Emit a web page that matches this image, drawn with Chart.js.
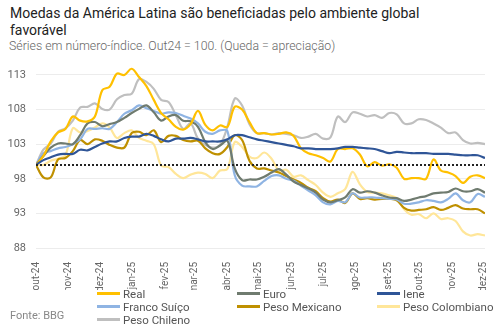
<!DOCTYPE html>
<html>
<head>
<meta charset="utf-8">
<script src="https://cdn.jsdelivr.net/npm/chart.js@4.4.1/dist/chart.umd.min.js"></script>
<style>
  body { margin: 0; background: #fff; font-family: Roboto, "Noto Sans", sans-serif; }
  #wrap { position: relative; width: 502px; height: 327px; overflow: hidden; }
  #title { position: absolute; left: 10px; top: 5px; font-size: 14px; line-height: 17px; color: #222; width: 450px; }
  #sub { position: absolute; left: 9px; top: 39px; font-size: 12.3px; color: #666; font-weight: 300; }
  #box { position: absolute; left: 0; top: 48px; width: 502px; height: 242px; }
  #legend { position: absolute; left: 0; top: 287px; width: 502px; height: 40px; font-size: 11.5px; color: #555; }
  .item { position: absolute; height: 13px; line-height: 13px; white-space: nowrap; }
  .item span.sw { display: inline-block; width: 23px; height: 3px; vertical-align: middle; margin-right: 3px; position: relative; top: -1px; }
  #fonte { position: absolute; left: 10px; top: 309px; font-size: 11px; color: #888; }
</style>
</head>
<body>
<div id="wrap">
  <div id="title">Moedas da América Latina são beneficiadas pelo ambiente global favorável</div>
  <div id="sub">Séries em número-índice. Out24 = 100. (Queda = apreciação)</div>
  <div id="box"><canvas id="chart"></canvas></div>
  <div id="legend"></div>
  <div id="fonte">Fonte: BBG</div>
</div>
<script>
// weekly observations, starting 01/10/2024 (day 0), one every 7 days
const stepDays = 7;

const monthLabels = ['out-24', 'nov-24', 'dez-24', 'jan-25', 'fev-25', 'mar-25', 'abr-25', 'mai-25',
  'jun-25', 'jul-25', 'ago-25', 'set-25', 'out-25', 'nov-25', 'dez-25'];
const monthDays = [0, 31, 61, 92, 123, 151, 182, 212, 243, 273, 304, 335, 365, 396, 426];
const yTicks = [88, 93, 98, 103, 108, 113];

const real = [100, 101.3, 103.4, 104.7, 105.2, 107.0, 106.4, 106.3, 107.0, 110.8, 111.3, 113.2, 113.0, 113.9,
  112.7, 111.4, 109.4, 107.5, 106.6, 105.5, 105.1, 105.9, 107.8, 105.8, 105.0, 105.7, 105.5, 108.4, 108.0,
  106.2, 104.6, 104.6, 104.4, 104.5, 104.7, 104.2, 102.4, 101.7, 101.4, 101.0, 100.5, 102.3, 102.3, 102.4,
  101.5, 99.8, 100.4, 99.9, 100.1, 99.6, 98.0, 98.1, 98.1, 98.0, 100.8, 99.2, 98.9, 98.4, 97.4, 98.3, 98.5, 98.1];

const euro = [100, 101.3, 102.5, 103.1, 103.1, 103.0, 104.3, 106.0, 106.2, 105.6, 105.9, 106.2, 106.8, 107.5,
  108.1, 108.6, 107.6, 106.4, 107.0, 107.2, 106.4, 106.3, 105.5, 103.3, 102.3, 102.8, 103.5, 99.5, 97.8,
  97.9, 97.9, 98.3, 98.9, 99.4, 98.6, 97.6, 97.1, 96.6, 96.0, 95.0, 94.6, 94.9, 95.3, 96.5, 96.0, 96.2,
  96.0, 95.6, 95.3, 95.2, 94.8, 95.0, 95.3, 95.5, 95.9, 96.0, 96.1, 96.6, 96.2, 96.2, 96.5, 96.0];

const iene = [100, 100.7, 101.1, 101.5, 101.6, 101.6, 102.2, 102.1, 102.6, 103.1, 103.4, 103.4, 103.9, 104.1,
  104.1, 104.5, 104.2, 103.7, 103.4, 103.8, 103.8, 103.9, 103.7, 103.4, 103.4, 103.4, 103.7, 104.3, 104.3,
  104.0, 103.7, 103.5, 103.3, 103.1, 102.9, 102.7, 102.4, 102.4, 102.3, 102.3, 102.3, 102.4, 102.6, 102.6,
  102.5, 102.4, 102.3, 102.0, 101.7, 101.9, 101.8, 101.7, 101.7, 101.7, 101.6, 101.6, 101.6, 101.5, 101.4,
  101.4, 101.4, 101.0];

const franco = [100, 101.7, 102.0, 102.4, 102.6, 103.0, 103.7, 105.2, 105.2, 105.3, 105.2, 106.2, 107.4, 107.9,
  108.6, 108.2, 107.8, 107.4, 107.6, 107.5, 107.1, 106.7, 106.0, 104.8, 104.5, 105.0, 104.9, 98.5, 97.0,
  96.9, 96.9, 97.7, 98.4, 98.5, 98.0, 97.7, 97.0, 96.3, 95.6, 94.6, 94.3, 94.8, 94.6, 95.9, 95.3, 95.3,
  95.3, 95.2, 95.1, 95.0, 94.4, 94.4, 94.6, 94.9, 94.8, 94.6, 95.1, 95.9, 94.9, 94.6, 95.8, 95.4];

const mexicano = [100, 98.2, 98.2, 100.8, 101.0, 102.0, 103.6, 103.0, 103.7, 103.5, 102.9, 102.5, 102.5, 104.6,
  104.8, 104.3, 105.0, 103.3, 104.2, 104.2, 103.6, 103.4, 103.5, 102.4, 101.7, 101.6, 102.6, 104.3, 103.6,
  100.6, 99.5, 99.5, 99.2, 98.9, 98.4, 97.9, 97.4, 96.7, 96.2, 95.2, 94.7, 95.0, 94.5, 95.9, 95.1, 95.2,
  95.0, 95.1, 95.1, 94.9, 93.8, 93.4, 93.5, 93.6, 93.9, 93.5, 93.8, 94.2, 93.7, 93.6, 93.6, 93.0];

const colombiano = [100, 100.0, 100.6, 100.9, 101.4, 105.3, 104.7, 104.9, 105.4, 106.0, 105.4, 103.9, 104.6, 105.0,
  103.9, 103.5, 103.0, 99.9, 99.7, 98.7, 98.1, 98.6, 98.9, 98.7, 98.1, 99.2, 99.4, 103.3, 102.6, 101.2,
  101.0, 101.8, 100.9, 99.2, 99.3, 98.3, 98.5, 97.8, 97.1, 96.0, 95.4, 95.9, 96.5, 99.0, 97.2, 96.1,
  96.0, 95.9, 95.6, 95.2, 93.6, 92.8, 92.9, 92.3, 93.0, 92.2, 92.3, 91.9, 90.4, 89.8, 90.0, 89.8];

const chileno = [100, 102.2, 103.1, 104.8, 105.3, 106.4, 108.3, 108.4, 108.9, 108.1, 108.0, 109.5, 110.1, 110.3,
  112.4, 112.0, 111.0, 109.4, 109.1, 107.2, 105.2, 106.0, 103.8, 102.9, 102.5, 102.9, 105.5, 109.6, 108.6,
  105.9, 104.6, 104.6, 104.4, 104.6, 104.5, 104.3, 103.9, 104.1, 104.5, 103.8, 104.0, 107.0, 106.2, 107.6,
  107.4, 107.0, 107.2, 106.8, 107.5, 107.3, 106.0, 106.0, 106.6, 106.5, 106.0, 105.4, 104.6, 104.7, 103.6,
  103.1, 103.2, 103.0];

const series = [
  { label: 'Real', data: real, color: '#FFC000' },
  { label: 'Euro', data: euro, color: '#6F7B6F' },
  { label: 'Iene', data: iene, color: '#2F5597' },
  { label: 'Franco Suíço', data: franco, color: '#8FB4E3' },
  { label: 'Peso Mexicano', data: mexicano, color: '#BF9000' },
  { label: 'Peso Colombiano', data: colombiano, color: '#FFE699' },
  { label: 'Peso Chileno', data: chileno, color: '#BFBFBF' }
];

// draw order: Iene on top, pale lines underneath
const drawOrder = { 'Iene': 0, 'Real': 1, 'Euro': 2, 'Franco Suíço': 3, 'Peso Mexicano': 4, 'Peso Chileno': 5, 'Peso Colombiano': 6 };

const datasets = series.map(s => ({
  label: s.label,
  data: s.data.map((v, i) => ({ x: i * stepDays, y: v })),
  borderColor: s.color,
  borderWidth: 2.2,
  pointRadius: 0,
  tension: 0.35,
  order: drawOrder[s.label]
}));

datasets.push({
  label: 'base',
  data: [{ x: 0, y: 100 }, { x: monthDays[monthDays.length - 1] + 1, y: 100 }],
  borderColor: '#222',
  borderWidth: 2,
  borderDash: [2, 2],
  pointRadius: 0,
  order: -1
});

new Chart(document.getElementById('chart'), {
  type: 'line',
  data: { datasets: datasets },
  options: {
    responsive: true,
    maintainAspectRatio: false,
    animation: false,
    layout: { padding: { top: 0, right: 12, left: 0, bottom: 0 } },
    plugins: { legend: { display: false }, tooltip: { enabled: false } },
    scales: {
      x: {
        type: 'linear',
        min: 0,
        max: 427,
        grid: { display: false },
        border: { display: false },
        afterBuildTicks: axis => { axis.ticks = monthDays.map(v => ({ value: v })); },
        afterFit: axis => { axis.height = 42; },
        ticks: {
          autoSkip: false,
          maxRotation: 90,
          minRotation: 90,
          padding: 6,
          color: '#666',
          font: { family: 'Roboto', size: 10 },
          callback: v => monthLabels[monthDays.indexOf(v)]
        }
      },
      y: {
        min: 88,
        max: 114.5,
        grid: { color: '#ececec', drawTicks: false },
        border: { display: false },
        afterBuildTicks: axis => { axis.ticks = yTicks.map(v => ({ value: v })); },
        afterFit: axis => { axis.width = 36; },
        ticks: {
          padding: 10,
          color: '#666',
          font: { family: 'Roboto', size: 11 }
        }
      }
    }
  }
});

const legend = document.getElementById('legend');
const cols = [97, 237, 377];
series.forEach((s, i) => {
  const el = document.createElement('div');
  el.className = 'item';
  el.style.left = cols[i % 3] + 'px';
  el.style.top = (1 + Math.floor(i / 3) * 13) + 'px';
  el.innerHTML = '<span class="sw" style="background:' + s.color + '"></span>' + s.label;
  legend.appendChild(el);
});
</script>
</body>
</html>
